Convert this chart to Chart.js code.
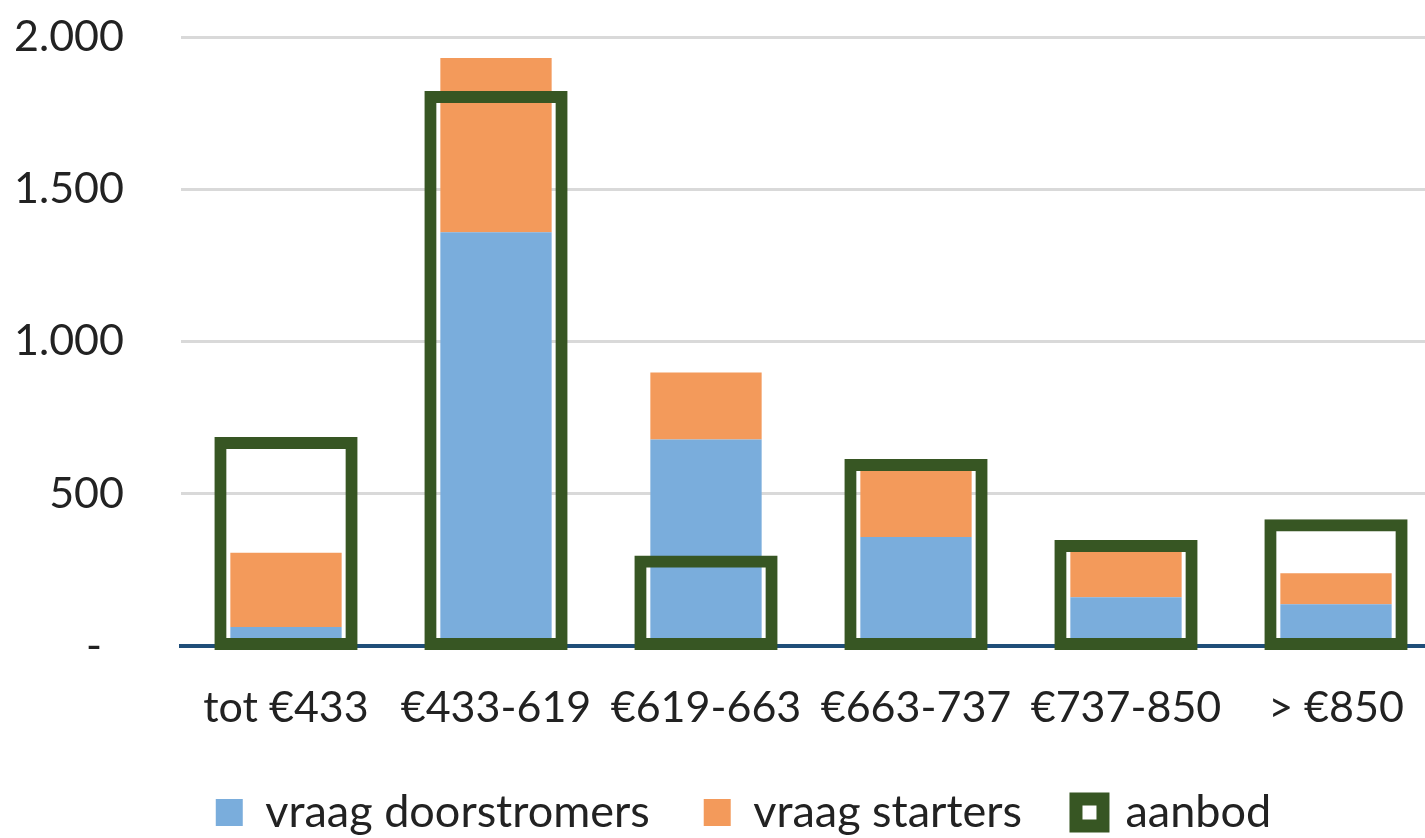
<!DOCTYPE html>
<html>
<head>
<meta charset="utf-8">
<script src="https://cdn.jsdelivr.net/npm/chart.js@4/dist/chart.umd.min.js"></script>
<style>
  html, body { margin: 0; padding: 0; background: #fff; overflow: hidden; }
  #wrap { width: 1487px; height: 838px; position: relative; }
</style>
</head>
<body>
<div id="wrap"><canvas id="chart"></canvas></div>
<script>
// data
const categories = ['tot €433', '€433-619', '€619-663', '€663-737', '€737-850', '> €850'];
const doorstromers = [62, 1359, 678, 358, 160, 137];
const starters = [244, 572, 220, 254, 162, 102];
const aanbod = [668, 1805, 279, 596, 330, 398];
const yTicks = [0, 500, 1000, 1500, 2000];
const yTickLabels = ['-  ', '500', '1.000', '1.500', '2.000'];

const BLUE = '#7aaddc';
const ORANGE = '#f39a5b';
const GREEN = '#375623';
const TEXT = '#222';

Chart.defaults.font.family = 'Lato, "Open Sans", sans-serif';
Chart.defaults.color = TEXT;

const ctx = document.getElementById('chart').getContext('2d');
window._chart = new Chart(ctx, {
  type: 'bar',
  data: {
    labels: categories,
    datasets: [
      { label: 'vraag doorstromers', data: doorstromers, backgroundColor: BLUE, borderWidth: 0,
        stack: 'vraag', barPercentage: 0.53, categoryPercentage: 1, inflateAmount: 0 },
      { label: 'vraag starters', data: starters, backgroundColor: ORANGE, borderWidth: 0,
        stack: 'vraag', barPercentage: 0.53, categoryPercentage: 1, inflateAmount: 0 },
      // outline bars on top of the stacks, border centred on the bar edge like Excel
      { label: 'aanbod', data: aanbod, stack: 'aanbod', grouped: false, order: -1,
        backgroundColor: 'rgba(0,0,0,0)', borderColor: GREEN, borderWidth: 1, inflateAmount: 5.5,
        borderSkipped: false, clip: false, barPercentage: 0.63, categoryPercentage: 1 }
    ]
  },
  options: {
    responsive: true,
    maintainAspectRatio: false,
    animation: false,
    layout: { padding: { top: 37, right: 0, bottom: -7, left: 0 } },
    scales: {
      x: {
        stacked: true,
        offset: true,
        z: 1,
        afterFit: s => { s.height = 90; },
        grid: { display: false, drawTicks: false },
        border: { display: true, color: '#1f4e79', width: 4 },
        ticks: { font: { size: 43 }, padding: 36, color: TEXT, maxRotation: 0, autoSkip: false }
      },
      y: {
        stacked: true,
        min: 0,
        max: 2000,
        afterBuildTicks: s => { s.ticks = yTicks.map(v => ({ value: v })); },
        afterFit: s => { s.width = 181; },
        grid: { color: '#d9d9d9', lineWidth: 3, drawTicks: true, tickLength: 57, tickColor: 'rgba(0,0,0,0)' },
        border: { display: false },
        ticks: {
          font: { size: 43 },
          padding: 0,
          color: TEXT,
          callback: (v) => yTickLabels[yTicks.indexOf(v)]
        }
      },
      // empty right margin, keeps the legend centred on the full chart width
      yRight: {
        position: 'right',
        min: 0,
        max: 2000,
        afterFit: s => { s.width = 46; },
        grid: { display: false, drawTicks: false },
        border: { display: false },
        ticks: { display: false }
      }
    },
    plugins: {
      tooltip: { enabled: false },
      legend: {
        position: 'bottom',
        labels: {
          font: { size: 45 },
          boxWidth: 27,
          boxHeight: 27,
          padding: 54,
          color: TEXT,
          generateLabels: chart => chart.data.datasets.map((ds, i) => ({
            text: ds.label,
            datasetIndex: i,
            fillStyle: i === 2 ? '#fff' : ds.backgroundColor,
            strokeStyle: i === 2 ? GREEN : ds.backgroundColor,
            lineWidth: i === 2 ? 13 : 0,
            fontColor: TEXT,
            hidden: false
          }))
        }
      }
    }
  }
});
</script>
</body>
</html>
